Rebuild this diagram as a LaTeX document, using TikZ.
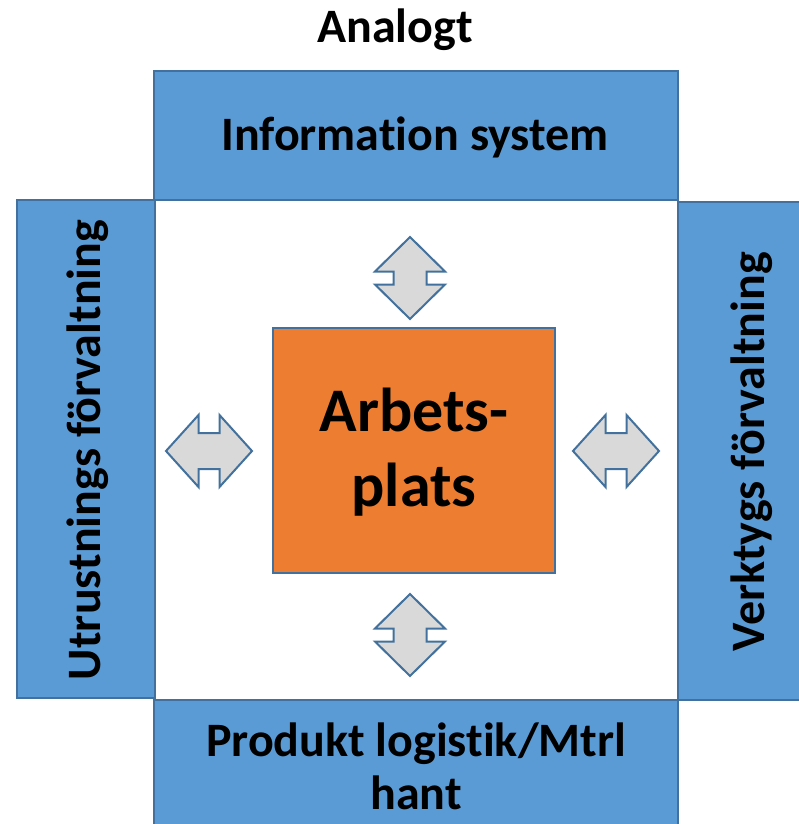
\documentclass[tikz,border=0pt]{standalone}
\usepackage{fontspec}
\setmainfont{Carlito}[Ligatures={NoCommon,NoRare,NoContextual}]
\definecolor{boxblue}{HTML}{5B9BD5}
\definecolor{edgeblue}{HTML}{41719C}
\definecolor{workorange}{HTML}{ED7D31}
\definecolor{arrowgray}{HTML}{D9D9D9}
\tikzset{
  sidebox/.style={fill=boxblue, draw=edgeblue, line width=2pt},
  corebox/.style={fill=workorange, draw=edgeblue, line width=2pt},
  bigarrow/.style={fill=arrowgray, draw=edgeblue, line width=2pt, line join=miter},
  lbl/.style={font=\bfseries\fontsize{48}{53}\selectfont, align=center, inner sep=0pt},
  pics/vbiarrow/.style={code={
    \draw[bigarrow] (0,-41) -- (35,-6.5) -- (16.5,-6.5) -- (16.5,6.5) -- (35,6.5)
      -- (0,41) -- (-35,6.5) -- (-16.5,6.5) -- (-16.5,-6.5) -- (-35,-6.5) -- cycle;}},
  pics/hbiarrow/.style={code={
    \draw[bigarrow] (-43,0) -- (-10.5,-36) -- (-10.5,-18) -- (10.5,-18) -- (10.5,-36)
      -- (43,0) -- (10.5,36) -- (10.5,18) -- (-10.5,18) -- (-10.5,36) -- cycle;}}
}
\begin{document}
\begin{tikzpicture}[x=1pt,y=-1pt]
  \useasboundingbox (0,0) rectangle (799,824);
  \clip (0,0) rectangle (799,824);
  % frame of four departments
  \draw[sidebox] (17,200) rectangle (155,698);
  \draw[sidebox] (678,202) rectangle (812,700);
  \draw[sidebox] (154,71) rectangle (678,200);
  \draw[sidebox] (154,700) rectangle (678,840);
  \draw[corebox] (273,328) rectangle (555,573);
  % labels
  \node[lbl] (analog) at (395,30) {Analogt};
  \node[lbl] (info) at (415,137) {Informat\kern0pt ion system};
  \node[lbl, rotate=90] (utr) at (88,450) {Utrustnings förvaltning};
  \node[lbl, rotate=90] (verk) at (752,452) {Verktygs förvaltning};
  \node[lbl] (prod) at (416,766) {Produkt logist\kern0pt ik/Mtrl\\hant};
  \node[lbl, font=\bfseries\fontsize{62}{75}\selectfont] (arb) at (414,452) {Arbets-\\plats};
  % two-way arrows
  \pic at (410,278) {vbiarrow};
  \pic at (410,635) {vbiarrow};
  \pic at (209,451) {hbiarrow};
  \pic at (616,451) {hbiarrow};
\end{tikzpicture}
\end{document}
